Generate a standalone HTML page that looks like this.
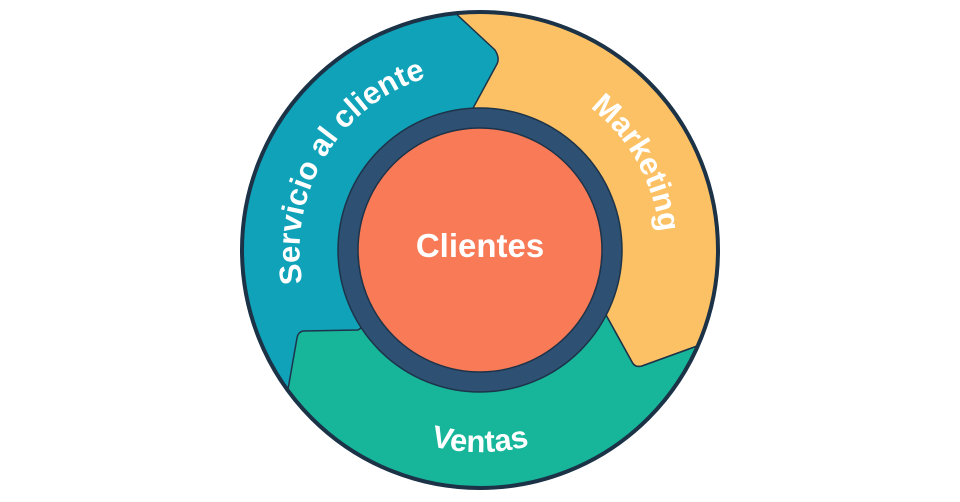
<!DOCTYPE html>
<html><head><meta charset="utf-8"><style>html,body{margin:0;padding:0;background:#fff;width:960px;height:502px;overflow:hidden}</style></head>
<body>
<svg width="960" height="502" viewBox="0 0 960 502" xmlns="http://www.w3.org/2000/svg">
<defs>
<clipPath id="c"><circle cx="480" cy="250" r="238"/></clipPath>
<path id="p1" d="M390,405.9 A180,180 0 1,1 575.4,97.4"/>
<path id="p2" d="M529.6,77 A180,180 0 0,1 653,299.7"/>
<path id="p3" d="M305.9,350.5 A200,200 0 0,0 654.1,350.5"/>
</defs>
<circle cx="480" cy="250" r="238" fill="#10a2b8"/>
<g clip-path="url(#c)" stroke="#1d3349" stroke-width="1.5" stroke-linejoin="round">
<path d="M448,0 L452,10 L495,50 Q500,58 497,64 L472,110 L480,250 L606,315 L632,362 Q635,368 642,366 L700,345 L760,330 L760,0 Z" fill="#fcc164"/>
<path d="M760,330 L700,345 L642,366 Q635,368 632,362 L606,315 L480,250 L358,330 L303,331 Q298,332 297,338 L287,395 L280,520 L760,520 Z" fill="#17b69b"/>
</g>
<circle cx="480" cy="250" r="238" fill="none" stroke="#1b3247" stroke-width="4"/>
<circle cx="480" cy="250" r="132" fill="#f87a56" stroke="#2e5073" stroke-width="20"/>
<circle cx="480" cy="250" r="142" fill="none" stroke="#1d3349" stroke-width="1.5"/>
<circle cx="480" cy="250" r="122" fill="none" stroke="#1d3349" stroke-width="1.5"/>
<g font-family="Liberation Sans, sans-serif" fill="#fff" font-size="31" font-weight="bold" text-anchor="middle">
<text><textPath href="#p1" startOffset="50%">Servicio al cliente</textPath></text>
<text><textPath href="#p2" startOffset="50%">Marketing</textPath></text>
<text><textPath href="#p3" startOffset="50%">Ventas</textPath></text>
<text x="480" y="257" font-size="33">Clientes</text>
</g>
</svg>
</body></html>
